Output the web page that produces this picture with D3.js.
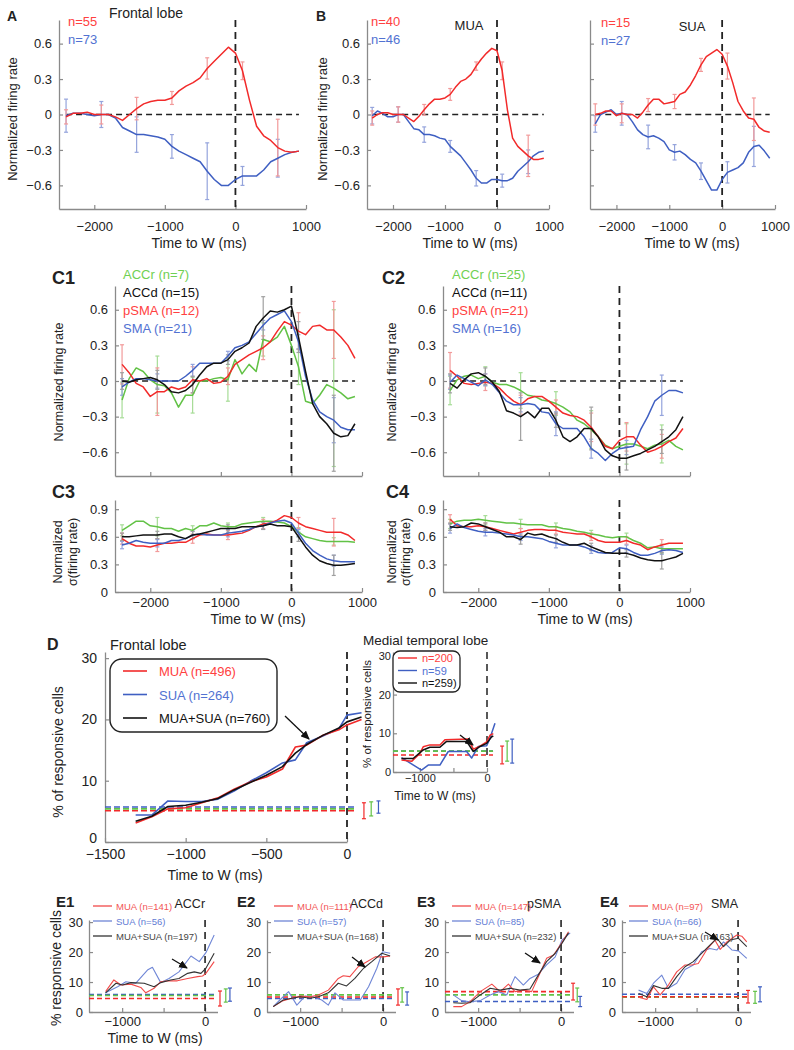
<!DOCTYPE html>
<html>
<head>
<meta charset="utf-8">
<script src="https://cdn.jsdelivr.net/npm/d3@7"></script>
<style>
  body { margin: 0; background: #fff; }
  text { font-family: "Liberation Sans", Arial, sans-serif; fill: #222; }
</style>
</head>
<body>
<script>
// ---------- data: firing-rate panels (A, B, C) ----------
const tFR = [-2400,-2300,-2200,-2100,-2000,-1900,-1800,-1700,-1600,-1500,-1400,-1300,-1200,-1100,-1000,-900,-800,-700,-600,-500,-400,-300,-200,-100,0,100,200,300,400,500,600,700,800,900];
const tErr = [-2400,-1900,-1400,-900,-400,100,600];

const aRed  = [-0.02,0.01,0.01,0.02,0.0,0.0,0.0,-0.02,-0.05,0.0,0.05,0.09,0.11,0.12,0.12,0.14,0.2,0.24,0.27,0.31,0.39,0.45,0.51,0.57,0.52,0.37,0.12,-0.1,-0.18,-0.22,-0.28,-0.31,-0.32,-0.31];
const aBlue = [-0.01,0.01,0.01,0.0,-0.01,0.0,0.0,-0.03,-0.11,-0.14,-0.17,-0.17,-0.18,-0.19,-0.21,-0.27,-0.31,-0.34,-0.37,-0.4,-0.48,-0.55,-0.6,-0.6,-0.55,-0.52,-0.52,-0.52,-0.47,-0.4,-0.37,-0.34,-0.32,-0.31];
const aRedErr  = [0.06,0.08,0.095,0.055,0.09,0.075,0.24];
const aBlueErr = [0.14,0.11,0.15,0.1,0.24,0.08,0.16];

const muaRed  = [-0.03,0.0,0.015,0.015,0.0,0.0,0.0,-0.03,-0.06,-0.015,0.04,0.09,0.13,0.13,0.14,0.17,0.23,0.28,0.3,0.34,0.41,0.47,0.52,0.56,0.54,0.37,0.04,-0.2,-0.27,-0.31,-0.35,-0.38,-0.38,-0.37];
const muaBlue = [-0.01,0.03,0.01,-0.02,-0.02,0.0,0.0,-0.06,-0.12,-0.13,-0.17,-0.17,-0.18,-0.2,-0.21,-0.27,-0.31,-0.35,-0.41,-0.47,-0.54,-0.58,-0.58,-0.55,-0.55,-0.56,-0.56,-0.54,-0.48,-0.44,-0.4,-0.35,-0.32,-0.31];
const muaRedErr  = [0.06,0.065,0.045,0.05,0.035,0.075,0.175];
const muaBlueErr = [0.07,0.065,0.065,0.05,0.065,0.055,0.1];

const suaRed  = [0.0,0.01,0.03,0.03,-0.01,0.01,0.0,0.0,-0.03,0.02,0.08,0.13,0.13,0.09,0.1,0.11,0.17,0.19,0.25,0.33,0.42,0.49,0.52,0.55,0.51,0.41,0.27,0.11,0.03,-0.03,-0.04,-0.11,-0.14,-0.15];
const suaBlue = [-0.08,0.0,0.02,0.04,0.0,0.01,0.0,-0.06,-0.13,-0.17,-0.19,-0.18,-0.2,-0.23,-0.3,-0.32,-0.31,-0.34,-0.38,-0.41,-0.48,-0.56,-0.64,-0.64,-0.55,-0.49,-0.47,-0.45,-0.41,-0.32,-0.27,-0.26,-0.31,-0.37];
const suaRedErr  = [0.09,0.08,0.055,0.06,0.055,0.11,0.18];
const suaBlueErr = [0.07,0.1,0.1,0.065,0.07,0.09,0.17];

const c1Green = [-0.16,0.02,0.11,0.08,0.01,-0.03,-0.04,-0.1,-0.22,-0.12,-0.12,0.0,0.0,0.02,0.03,0.01,0.18,0.06,0.14,0.08,0.35,0.33,0.37,0.46,0.3,0.12,-0.17,-0.19,-0.12,-0.03,-0.06,-0.1,-0.15,-0.13];
const c1Black = [0.0,-0.01,0.01,0.02,0.03,0.01,-0.03,-0.09,-0.1,-0.08,-0.03,0.05,0.12,0.15,0.15,0.18,0.25,0.28,0.32,0.46,0.53,0.59,0.58,0.6,0.63,0.37,0.08,-0.19,-0.3,-0.36,-0.44,-0.47,-0.46,-0.36];
const c1Red   = [0.14,0.07,-0.02,-0.05,-0.13,-0.09,-0.09,-0.05,-0.07,-0.05,0.01,0.0,0.02,-0.02,-0.01,0.04,0.14,0.18,0.22,0.25,0.28,0.33,0.42,0.5,0.47,0.42,0.39,0.46,0.47,0.43,0.43,0.37,0.3,0.19];
const c1Blue  = [-0.05,-0.01,0.02,0.02,0.01,0.0,0.0,0.0,0.0,0.04,0.09,0.15,0.15,0.15,0.15,0.21,0.28,0.3,0.33,0.4,0.47,0.53,0.56,0.59,0.5,0.33,0.04,-0.16,-0.26,-0.3,-0.33,-0.39,-0.41,-0.41];
const c1GreenErr = [0.15,0.24,0.15,0.18,0.14,0.15,0.66];
const c1BlackErr = [0.07,0.08,0.07,0.04,0.18,0.13,0.32];
const c1RedErr   = [0.165,0.2,0.11,0.07,0.1,0.155,0.24];
const c1BlueErr  = [0.07,0.06,0.05,0.04,0.04,0.06,0.19];

const c2Green = [-0.08,0.01,0.04,0.05,0.02,0.04,-0.01,-0.03,-0.03,-0.05,-0.08,-0.12,-0.13,-0.16,-0.17,-0.19,-0.22,-0.26,-0.33,-0.36,-0.41,-0.47,-0.54,-0.57,-0.55,-0.53,-0.53,-0.55,-0.57,-0.54,-0.53,-0.5,-0.55,-0.58];
const c2Black = [-0.02,-0.06,0.01,0.06,0.07,0.04,-0.01,-0.09,-0.25,-0.27,-0.3,-0.26,-0.31,-0.23,-0.23,-0.33,-0.47,-0.51,-0.47,-0.4,-0.4,-0.47,-0.58,-0.63,-0.65,-0.65,-0.63,-0.61,-0.58,-0.55,-0.51,-0.47,-0.41,-0.3];
const c2Red   = [0.09,0.04,-0.02,-0.03,-0.02,-0.01,-0.02,-0.06,-0.12,-0.17,-0.2,-0.15,-0.13,-0.13,-0.17,-0.22,-0.27,-0.29,-0.3,-0.33,-0.39,-0.47,-0.55,-0.57,-0.5,-0.47,-0.47,-0.54,-0.6,-0.58,-0.55,-0.51,-0.48,-0.4];
const c2Blue  = [-0.01,0.05,0.02,-0.01,-0.04,0.01,-0.03,-0.1,-0.17,-0.2,-0.2,-0.19,-0.2,-0.26,-0.27,-0.36,-0.4,-0.4,-0.4,-0.47,-0.57,-0.61,-0.67,-0.61,-0.57,-0.56,-0.55,-0.41,-0.3,-0.17,-0.12,-0.08,-0.08,-0.1];
const c2GreenErr = [0.12,0.08,0.15,0.1,0.16,0.17,0.16];
const c2BlackErr = [0.08,0.07,0.2,0.06,0.18,0.1,0.1];
const c2RedErr   = [0.15,0.07,0.08,0.06,0.12,0.12,0.1];
const c2BlueErr  = [0.06,0.05,0.06,0.1,0.08,0.06,0.17];

const c3Green = [0.67,0.72,0.77,0.77,0.72,0.71,0.69,0.69,0.66,0.69,0.67,0.72,0.72,0.75,0.72,0.71,0.71,0.74,0.75,0.76,0.77,0.77,0.76,0.75,0.71,0.65,0.6,0.58,0.56,0.55,0.55,0.55,0.55,0.54];
const c3Black = [0.6,0.6,0.61,0.62,0.62,0.62,0.63,0.63,0.6,0.58,0.62,0.63,0.65,0.67,0.69,0.69,0.69,0.71,0.71,0.71,0.72,0.74,0.72,0.72,0.71,0.6,0.49,0.4,0.34,0.31,0.29,0.29,0.3,0.31];
const c3Red   = [0.58,0.53,0.5,0.5,0.49,0.51,0.53,0.53,0.54,0.54,0.58,0.62,0.63,0.62,0.62,0.62,0.63,0.64,0.67,0.71,0.74,0.75,0.78,0.83,0.81,0.75,0.71,0.69,0.67,0.65,0.65,0.65,0.62,0.56];
const c3Blue  = [0.51,0.53,0.56,0.54,0.53,0.53,0.53,0.56,0.56,0.58,0.62,0.63,0.62,0.62,0.62,0.64,0.65,0.66,0.68,0.71,0.72,0.75,0.77,0.78,0.75,0.64,0.53,0.45,0.4,0.36,0.34,0.33,0.33,0.33];
const c3GreenErr = [0.06,0.1,0.05,0.04,0.04,0.05,0.04];
const c3BlackErr = [0.04,0.04,0.04,0.04,0.04,0.05,0.11];
const c3RedErr   = [0.06,0.07,0.05,0.05,0.05,0.06,0.15];
const c3BlueErr  = [0.04,0.04,0.04,0.04,0.04,0.04,0.06];

const c4Green = [0.74,0.77,0.78,0.78,0.79,0.78,0.77,0.76,0.75,0.75,0.74,0.73,0.73,0.73,0.71,0.71,0.69,0.68,0.66,0.65,0.63,0.62,0.6,0.59,0.6,0.6,0.56,0.53,0.48,0.49,0.47,0.47,0.47,0.47];
const c4Black = [0.71,0.7,0.71,0.75,0.74,0.71,0.68,0.65,0.6,0.6,0.57,0.64,0.62,0.63,0.6,0.58,0.54,0.51,0.51,0.53,0.49,0.46,0.43,0.42,0.42,0.42,0.4,0.37,0.35,0.34,0.34,0.36,0.38,0.42];
const c4Red   = [0.79,0.72,0.71,0.71,0.72,0.71,0.69,0.67,0.65,0.63,0.65,0.67,0.68,0.68,0.67,0.67,0.65,0.64,0.63,0.63,0.6,0.56,0.54,0.54,0.54,0.56,0.53,0.51,0.46,0.49,0.51,0.53,0.53,0.53];
const c4Blue  = [0.69,0.74,0.7,0.68,0.66,0.65,0.65,0.64,0.63,0.62,0.6,0.6,0.59,0.58,0.55,0.53,0.51,0.51,0.51,0.49,0.46,0.43,0.42,0.43,0.48,0.47,0.43,0.4,0.4,0.42,0.45,0.46,0.45,0.43];
const c4GreenErr = [0.05,0.05,0.05,0.04,0.04,0.04,0.05];
const c4BlackErr = [0.04,0.04,0.05,0.04,0.04,0.04,0.09];
const c4RedErr   = [0.05,0.04,0.04,0.04,0.04,0.04,0.06];
const c4BlueErr  = [0.05,0.04,0.04,0.05,0.04,0.04,0.04];

// ---------- data: % responsive cells (D, E) ----------
const dT     = [-1310,-1210,-1110,-1000,-900,-800,-700,-600,-500,-400,-320,-250,-150,-50,0,90];
const dRed   = [3.1,4.1,5.4,5.6,6.4,7.2,8.6,9.8,10.6,11.9,15.5,15.8,17.4,18.3,19.1,20.0];
const dBlack = [3.4,4.2,5.8,6.0,6.5,7.1,8.5,9.7,10.9,12.3,14.5,15.9,17.4,18.6,19.6,20.4];
const dBlue  = [4.4,4.4,6.7,6.6,6.6,7.0,8.3,9.9,11.3,12.9,13.4,16.2,17.3,18.5,20.7,21.1];
const dSig    = [5.1, 5.4, 5.7];      // red, green, blue chance levels
const dSigErr = [1.3, 1.15, 1.0];
const dSigT   = [105, 150, 195];

const mtlRedT   = [-1274,-1119,-1000,-950,-851,-701,-627,-278,-204,-104,-5,45,94];
const mtlRed    = [3.1,2.8,4.8,6.5,7.0,7.0,8.3,8.5,5.9,6.7,7.8,9.5,9.9];
const mtlBlackT = [-1274,-1100,-950,-851,-701,-602,-303,-204,-104,-5,70,94];
const mtlBlack  = [3.5,3.5,5.7,6.4,6.4,7.9,7.9,5.3,6.6,7.4,9.1,9.3];
const mtlBlueT  = [-1274,-975,-876,-701,-577,-303,-229,-129,-5,35,119];
const mtlBlue   = [3.7,0.5,1.8,1.8,5.3,5.3,3.6,6.6,6.8,8.3,12.6];
const mtlSig    = [4.4, 5.4, 5.4];
const mtlSigErr = [2.3, 2.6, 3.1];
const mtlSigT   = [225, 300, 375];

const e1RedT = [-1200,-1100,-1015,-895,-775,-715,-615,-535,-455,-335,-210,-90,-30,10,110];
const e1Red  = [6.8,10.7,9.0,9.3,8.2,6.4,7.9,10.1,10.4,10.4,11.2,11.8,12.0,12.9,16.8];
const e1BlackT = [-1200,-1075,-995,-895,-735,-615,-535,-415,-315,-210,-130,-50,10,110];
const e1Black  = [6.4,9.6,9.0,9.8,9.6,8.4,9.8,10.7,11.2,12.9,13.4,12.9,14.6,19.6];
const e1BlueT = [-1200,-1055,-955,-835,-695,-635,-535,-435,-315,-170,-70,10,110];
const e1Blue  = [6.4,8.4,10.1,9.6,14.0,14.9,9.8,11.2,13.4,18.7,16.8,19.8,25.7];

const e2RedT = [-1325,-1205,-1100,-1000,-880,-780,-660,-540,-480,-400,-300,-195,-95,5,85];
const e2Red  = [1.8,3.8,4.6,5.3,5.1,5.7,7.3,11.2,12.1,11.8,15.1,16.8,18.4,18.4,18.7];
const e2BlackT = [-1325,-1205,-1100,-1000,-880,-780,-660,-540,-440,-340,-235,-135,-15,85];
const e2Black  = [1.8,4.0,4.6,5.1,4.6,5.1,6.4,9.6,8.7,11.2,14.6,16.8,19.6,18.7];
const e2BlueT = [-1325,-1245,-1140,-1040,-940,-840,-740,-660,-580,-480,-360,-275,-175,-75,-5,85];
const e2Blue  = [1.8,4.0,6.8,2.3,5.3,5.1,4.0,2.3,6.4,4.0,4.0,4.0,8.4,14.6,20.1,19.6];

const e3RedT = [-1300,-1200,-1100,-975,-835,-735,-635,-555,-455,-355,-255,-175,-90,-10,90];
const e3Red  = [1.8,1.8,3.4,6.8,9.3,6.8,9.3,6.8,7.3,6.8,12.9,17.9,19.0,22.3,26.8];
const e3BlackT = [-1300,-1200,-1100,-975,-855,-735,-615,-495,-375,-275,-175,-70,10,90];
const e3Black  = [3.1,2.9,3.1,5.7,7.9,7.3,7.9,7.3,7.7,12.3,16.8,19.6,22.9,26.4];
const e3BlueT = [-1300,-1200,-1100,-975,-855,-755,-655,-555,-455,-375,-275,-175,-70,10,110];
const e3Blue  = [5.7,3.8,3.4,3.8,5.7,6.8,5.7,11.8,9.0,11.2,12.6,15.7,18.4,24.0,26.4];

const e4RedT = [-1200,-1100,-1020,-940,-840,-740,-640,-560,-480,-380,-280,-215,-135,-15,45,105];
const e4Red  = [4.9,4.2,8.4,5.7,9.0,13.4,15.7,15.7,16.2,20.7,24.0,20.9,23.4,25.7,25.3,23.4];
const e4BlackT = [-1200,-1100,-1020,-920,-840,-740,-640,-540,-440,-340,-255,-175,-95,5,105];
const e4Black  = [6.2,5.1,8.8,7.9,7.9,11.8,15.1,16.8,19.6,22.3,24.6,21.8,24.0,24.6,21.8];
const e4BlueT = [-1200,-1100,-1020,-920,-840,-740,-640,-540,-440,-340,-255,-175,-75,5,105];
const e4Blue  = [7.3,6.2,9.6,12.3,7.9,9.6,14.2,15.7,20.1,21.2,20.7,23.4,20.7,20.4,17.9];

// chance levels for E panels: [red, green, blue]
const e1Sig = [4.5, 5.5, 5.8], e1SigErr = [2.5, 2.2, 2.2], e1SigT = [180, 250, 300];
const e2Sig = [5.0, 5.7, 4.5], e2SigErr = [2.7, 2.4, 2.2], e2SigT = [180, 230, 290];
const e3Sig = [6.8, 5.7, 3.5], e3SigErr = [2.8, 2.3, 1.7], e3SigT = [145, 195, 230];
const e4Sig = [5.1, 4.9, 5.9], e4SigErr = [2.1, 2.0, 2.5], e4SigT = [120, 205, 265];

const eTitles = ["ACCr", "ACCd", "pSMA", "SMA"];
const eLegends = [
  ["MUA (n=141)", "SUA (n=56)", "MUA+SUA (n=197)"],
  ["MUA (n=111)", "SUA (n=57)", "MUA+SUA (n=168)"],
  ["MUA (n=147)", "SUA (n=85)", "MUA+SUA (n=232)"],
  ["MUA (n=97)", "SUA (n=66)", "MUA+SUA (n=163)"]
];

// ---------- colours ----------
const RED = "#f22a2a", BLUE = "#3f5fc2", GREEN = "#62c246", BLACK = "#111";
const RED_E = "#f29a9a", BLUE_E = "#95a4dc", GREEN_E = "#a6dc96", BLACK_E = "#a0a0a0";
const RED_T = "#ff4141", BLUE_T = "#5272d2", GREEN_T = "#6fd052";
const AX = "#8a8a8a";

const svg = d3.select("body").append("svg")
  .attr("width", 794).attr("height", 1050);

svg.append("defs").append("marker")
  .attr("id", "arr").attr("markerUnits", "userSpaceOnUse")
  .attr("markerWidth", 10).attr("markerHeight", 8)
  .attr("refX", 8).attr("refY", 4).attr("orient", "auto")
  .append("path").attr("d", "M0,0 L9,4 L0,8 Z").attr("fill", "#111");

const fmtT = d => d < 0 ? "\u2212" + Math.abs(d) : String(d);
const fmtR = d => d === 0 ? "0" : (d < 0 ? "\u2212" : "") + Math.abs(d).toFixed(1);

// axes frame for one panel
function frame(o) {
  const x = d3.scaleLinear().domain(o.xd).range([o.x0, o.x1]);
  const y = d3.scaleLinear().domain(o.yd).range([o.y0, o.y1]);
  const g = svg.append("g");
  const fs = o.fs || 13;

  const bottom = d3.axisBottom(x).tickValues(o.xticks)
    .tickSizeInner(-4).tickSizeOuter(0).tickPadding(o.xpad)
    .tickFormat(d => (o.xlab || []).includes(d) ? fmtT(d) : "");
  g.append("g").attr("transform", `translate(0,${o.y0})`).call(bottom)
    .attr("font-size", fs).attr("font-family", null);

  const left = d3.axisLeft(y).tickValues(o.yticks)
    .tickSizeInner(-4).tickSizeOuter(0).tickPadding(o.ypad)
    .tickFormat(o.yfmt || (() => ""));
  const ly = g.append("g").attr("transform", `translate(${o.x0},0)`).call(left)
    .attr("font-size", fs).attr("font-family", null);
  // optionally lift the lowest y label so it clears the x labels
  if (o.liftZero) ly.selectAll(".tick text").filter(d => d === 0).attr("dy", "0.02em");

  g.selectAll(".domain").attr("stroke", AX).attr("stroke-width", 1.3);
  g.selectAll(".tick line").attr("stroke", AX).attr("stroke-width", 1.2);
  g.selectAll(".tick text").attr("fill", "#222");
  return { x, y, g };
}

function curve(p, t, v, color, w) {
  p.g.append("path")
    .datum(t.map((d, i) => [d, v[i]]))
    .attr("fill", "none").attr("stroke", color).attr("stroke-width", w)
    .attr("stroke-linejoin", "round")
    .attr("d", d3.line().x(d => p.x(d[0])).y(d => p.y(d[1])));
}

function errBars(p, t, c, h, color) {
  t.forEach((tt, i) => {
    const xx = p.x(tt);
    const g = p.g.append("g").attr("stroke", color).attr("stroke-width", 1.2);
    g.append("line").attr("x1", xx).attr("x2", xx).attr("y1", p.y(c[i] - h[i])).attr("y2", p.y(c[i] + h[i]));
    g.append("line").attr("x1", xx - 2).attr("x2", xx + 2).attr("y1", p.y(c[i] - h[i])).attr("y2", p.y(c[i] - h[i]));
    g.append("line").attr("x1", xx - 2).attr("x2", xx + 2).attr("y1", p.y(c[i] + h[i])).attr("y2", p.y(c[i] + h[i]));
  });
}

function vZero(p, w) {
  p.g.append("line")
    .attr("x1", p.x(0)).attr("x2", p.x(0))
    .attr("y1", p.y.range()[1]).attr("y2", p.y.range()[0])
    .attr("stroke", "#222").attr("stroke-width", w || 1.8).attr("stroke-dasharray", "7,5");
}

function hZero(p) {
  p.g.append("line")
    .attr("x1", p.x(tFR[0])).attr("x2", p.x(tFR[tFR.length - 1]))
    .attr("y1", p.y(0)).attr("y2", p.y(0))
    .attr("stroke", "#222").attr("stroke-width", 1.4).attr("stroke-dasharray", "6,4");
}

function frSeries(p, items) {
  items.forEach(s => errBars(p, tErr, tErr.map(t => s.v[tFR.indexOf(t)]), s.e, s.ec));
  items.forEach(s => curve(p, tFR, s.v, s.c, 1.5));
}

function txt(x, y, s, o = {}) {
  const t = svg.append("text").attr("x", x).attr("y", y).text(s)
    .attr("font-size", o.fs || 13)
    .attr("text-anchor", o.anchor || "start");
  if (o.fill) t.style("fill", o.fill);
  if (o.bold) t.attr("font-weight", "bold");
  if (o.rot) t.attr("transform", `rotate(-90,${x},${y})`).attr("dominant-baseline", "central").attr("text-anchor", "middle");
  return t;
}

// chance levels with dashed lines and error bars
function chance(p, tEnd, sig, sigErr, sigT, dash) {
  const cols = [RED, GREEN, BLUE];
  [2, 1, 0].forEach(i => {
    p.g.append("line")
      .attr("x1", p.x.range()[0]).attr("x2", p.x(tEnd))
      .attr("y1", p.y(sig[i])).attr("y2", p.y(sig[i]))
      .attr("stroke", cols[i]).attr("stroke-width", 1.6).attr("stroke-dasharray", dash || "5,3");
  });
  sig.forEach((s, i) => errBars(p, [sigT[i]], [s], [sigErr[i]], cols[i]));
}

function arrow(x1, y1, x2, y2) {
  svg.append("line").attr("x1", x1).attr("y1", y1).attr("x2", x2).attr("y2", y2)
    .attr("stroke", "#111").attr("stroke-width", 1.3).attr("marker-end", "url(#arr)");
}

/* ---------------- Panel A ---------------- */
const frY = { yd: [-0.8, 0.8], y0: 209, y1: 20, yticks: [-0.6, -0.3, 0, 0.3, 0.6] };
const pA = frame({ ...frY, x0: 59, x1: 306, xd: [-2500, 1000], xticks: [-2000, -1000, 0, 1000],
  xlab: [-2000, -1000, 0, 1000], xpad: 13, ypad: 7, yfmt: fmtR });
hZero(pA); vZero(pA);
frSeries(pA, [
  { v: aBlue, e: aBlueErr, c: BLUE, ec: BLUE_E },
  { v: aRed, e: aRedErr, c: RED, ec: RED_E }
]);
txt(7, 21, "A", { bold: true, fs: 14 });
txt(146, 18, "Frontal lobe", { anchor: "middle", fs: 14 });
txt(68, 26, "n=55", { fill: RED_T });
txt(68, 44, "n=73", { fill: BLUE_T });
txt(12, 119, "Normalized firing rate", { rot: true });
txt(199, 248, "Time to W (ms)", { anchor: "middle", fs: 14 });

/* ---------------- Panel B: MUA ---------------- */
const pB = frame({ ...frY, x0: 367, x1: 549, xd: [-2500, 1000], xticks: [-2000, -1000, 0, 1000],
  xlab: [-2000, -1000, 0, 1000], xpad: 13, ypad: 7, yfmt: fmtR });
hZero(pB); vZero(pB);
frSeries(pB, [
  { v: muaBlue, e: muaBlueErr, c: BLUE, ec: BLUE_E },
  { v: muaRed, e: muaRedErr, c: RED, ec: RED_E }
]);
txt(316, 21, "B", { bold: true, fs: 14 });
txt(371, 26, "n=40", { fill: RED_T });
txt(371, 44, "n=46", { fill: BLUE_T });
txt(469, 30, "MUA", { anchor: "middle" });
txt(322, 119, "Normalized firing rate", { rot: true });
txt(470, 248, "Time to W (ms)", { anchor: "middle", fs: 14 });

/* ---------------- Panel B: SUA ---------------- */
const pS = frame({ ...frY, x0: 590, x1: 775, xd: [-2500, 1000], xticks: [-2000, -1000, 0, 1000],
  xlab: [-2000, -1000, 0, 1000], xpad: 13, ypad: 7 });
hZero(pS); vZero(pS);
frSeries(pS, [
  { v: suaBlue, e: suaBlueErr, c: BLUE, ec: BLUE_E },
  { v: suaRed, e: suaRedErr, c: RED, ec: RED_E }
]);
txt(601, 27, "n=15", { fill: RED_T });
txt(601, 45, "n=27", { fill: BLUE_T });
txt(692, 31, "SUA", { anchor: "middle" });
txt(692, 248, "Time to W (ms)", { anchor: "middle", fs: 14 });

/* ---------------- Panels C1-C4 ---------------- */
const cTop = { yd: [-0.8, 0.8], y0: 476, y1: 286, yticks: [-0.6, -0.3, 0, 0.3, 0.6], ypad: 7, yfmt: fmtR,
  xd: [-2500, 1000], xticks: [-2000, -1000, 0, 1000], xpad: 7 };
const cBot = { yd: [0, 1], y0: 592, y1: 500, yticks: [0, 0.3, 0.6, 0.9], ypad: 7, yfmt: fmtR,
  xd: [-2500, 1000], xticks: [-2000, -1000, 0, 1000], xlab: [-2000, -1000, 0, 1000], xpad: 6 };

const pC1 = frame({ ...cTop, x0: 115, x1: 362 });
hZero(pC1); vZero(pC1);
frSeries(pC1, [
  { v: c1Green, e: c1GreenErr, c: GREEN, ec: GREEN_E },
  { v: c1Red, e: c1RedErr, c: RED, ec: RED_E },
  { v: c1Blue, e: c1BlueErr, c: BLUE, ec: BLUE_E },
  { v: c1Black, e: c1BlackErr, c: BLACK, ec: BLACK_E }
]);
const pC2 = frame({ ...cTop, x0: 443, x1: 690 });
hZero(pC2); vZero(pC2);
frSeries(pC2, [
  { v: c2Green, e: c2GreenErr, c: GREEN, ec: GREEN_E },
  { v: c2Red, e: c2RedErr, c: RED, ec: RED_E },
  { v: c2Blue, e: c2BlueErr, c: BLUE, ec: BLUE_E },
  { v: c2Black, e: c2BlackErr, c: BLACK, ec: BLACK_E }
]);
const pC3 = frame({ ...cBot, x0: 115, x1: 362 });
vZero(pC3);
frSeries(pC3, [
  { v: c3Green, e: c3GreenErr, c: GREEN, ec: GREEN_E },
  { v: c3Red, e: c3RedErr, c: RED, ec: RED_E },
  { v: c3Blue, e: c3BlueErr, c: BLUE, ec: BLUE_E },
  { v: c3Black, e: c3BlackErr, c: BLACK, ec: BLACK_E }
]);
const pC4 = frame({ ...cBot, x0: 443, x1: 690 });
vZero(pC4);
frSeries(pC4, [
  { v: c4Green, e: c4GreenErr, c: GREEN, ec: GREEN_E },
  { v: c4Red, e: c4RedErr, c: RED, ec: RED_E },
  { v: c4Blue, e: c4BlueErr, c: BLUE, ec: BLUE_E },
  { v: c4Black, e: c4BlackErr, c: BLACK, ec: BLACK_E }
]);

txt(52, 284, "C1", { bold: true, fs: 18 });
txt(382, 284, "C2", { bold: true, fs: 18 });
txt(52, 498, "C3", { bold: true, fs: 18 });
txt(386, 498, "C4", { bold: true, fs: 18 });

const c1Leg = ["ACCr (n=7)", "ACCd (n=15)", "pSMA (n=12)", "SMA (n=21)"];
const c2Leg = ["ACCr (n=25)", "ACCd (n=11)", "pSMA (n=21)", "SMA (n=16)"];
const legCols = [GREEN_T, "#111", RED_T, BLUE_T];
c1Leg.forEach((s, i) => txt(123, 279 + 18 * i, s, { fill: legCols[i] }));
c2Leg.forEach((s, i) => txt(452, 279 + 18 * i, s, { fill: legCols[i] }));

txt(59, 382, "Normalized firing rate", { rot: true, fs: 12.5 });
txt(392, 382, "Normalized firing rate", { rot: true, fs: 12.5 });
txt(58, 552, "Normalized", { rot: true, fs: 12.5 });
txt(73, 552, "\u03c3(firing rate)", { rot: true, fs: 12.5 });
txt(392, 552, "Normalized", { rot: true, fs: 12.5 });
txt(406, 552, "\u03c3(firing rate)", { rot: true, fs: 12.5 });
txt(258, 624, "Time to W (ms)", { anchor: "middle", fs: 14 });
txt(585, 624, "Time to W (ms)", { anchor: "middle", fs: 14 });

/* ---------------- Panel D ---------------- */
const pD = frame({ x0: 105, x1: 347, xd: [-1500, 0], xticks: [-1500, -1000, -500, 0],
  xlab: [-1500, -1000, -500, 0], xpad: 7, y0: 842, y1: 652, yd: [0, 31], yticks: [0, 10, 20, 30],
  ypad: 8, yfmt: d => String(d), fs: 14, liftZero: true });
vZero(pD);
chance(pD, 60, dSig, dSigErr, dSigT, "6,3");
curve(pD, dT, dBlue, BLUE, 1.6);
curve(pD, dT, dRed, RED, 1.6);
curve(pD, dT, dBlack, BLACK, 1.6);
txt(47, 650, "D", { bold: true, fs: 16 });
txt(110, 650, "Frontal lobe", { fs: 14.5 });
txt(58, 752, "% of responsive cells", { rot: true, fs: 14 });
txt(215, 880, "Time to W (ms)", { anchor: "middle", fs: 14 });

svg.append("rect").attr("x", 110).attr("y", 659).attr("width", 167).attr("height", 73)
  .attr("rx", 12).attr("fill", "#fff").attr("stroke", "#222").attr("stroke-width", 1.4);
const dLegTxt = ["MUA (n=496)", "SUA (n=264)", "MUA+SUA (n=760)"];
const dLegCol = [RED, BLUE, BLACK];
const dLegTxtCol = [RED_T, BLUE_T, "#111"];
dLegTxt.forEach((s, i) => {
  const yy = 671 + 23.5 * i;
  svg.append("line").attr("x1", 123).attr("x2", 147).attr("y1", yy).attr("y2", yy)
    .attr("stroke", dLegCol[i]).attr("stroke-width", 1.6);
  txt(159, yy + 5, s, { fill: dLegTxtCol[i] });
});
arrow(285, 716, 309, 739);

/* ---------------- Inset: medial temporal lobe ---------------- */
const pM = frame({ x0: 393, x1: 487, xd: [-1400, 0], xticks: [-1000, -500, 0], xlab: [-1000, 0], xpad: 2,
  y0: 772, y1: 652, yd: [0, 31], yticks: [0, 10, 20, 30], ypad: 2, yfmt: d => String(d), fs: 11 });
vZero(pM, 1.5);
chance(pM, 90, mtlSig, mtlSigErr, mtlSigT, "5,3");
curve(pM, mtlBlueT, mtlBlue, BLUE, 1.5);
curve(pM, mtlRedT, mtlRed, RED, 1.5);
curve(pM, mtlBlackT, mtlBlack, BLACK, 1.5);
txt(363, 645, "Medial temporal lobe", { fs: 13.5 });
txt(367, 714, "% of responsive cells", { rot: true, fs: 11.5 });
txt(435, 800, "Time to W (ms)", { anchor: "middle", fs: 12 });
svg.append("rect").attr("x", 393).attr("y", 651).attr("width", 67).attr("height", 41)
  .attr("rx", 7).attr("fill", "#fff").attr("stroke", "#222").attr("stroke-width", 1.3);
const mLegTxt = ["n=200", "n=59", "n=259)"];
mLegTxt.forEach((s, i) => {
  const yy = 658 + 12.5 * i;
  svg.append("line").attr("x1", 398).attr("x2", 417).attr("y1", yy).attr("y2", yy)
    .attr("stroke", dLegCol[i]).attr("stroke-width", 1.4);
  txt(422, yy + 4, s, { fs: 11, fill: dLegTxtCol[i] });
});
arrow(460, 735, 473, 745);

/* ---------------- Panels E1-E4 ---------------- */
const eLefts = [89, 267, 445, 622];
const eData = [
  { r: [e1RedT, e1Red], b: [e1BlueT, e1Blue], k: [e1BlackT, e1Black], s: [e1Sig, e1SigErr, e1SigT] },
  { r: [e2RedT, e2Red], b: [e2BlueT, e2Blue], k: [e2BlackT, e2Black], s: [e2Sig, e2SigErr, e2SigT] },
  { r: [e3RedT, e3Red], b: [e3BlueT, e3Blue], k: [e3BlackT, e3Black], s: [e3Sig, e3SigErr, e3SigT] },
  { r: [e4RedT, e4Red], b: [e4BlueT, e4Blue], k: [e4BlackT, e4Black], s: [e4Sig, e4SigErr, e4SigT] }
];
const eArrows = [[172, 959, 187, 968], [352, 957, 365, 967], [525, 953, 540, 963], [705, 932, 718, 940]];
const eLabX = [56, 237, 417, 600];

eLefts.forEach((x0, k) => {
  const p = frame({ x0, x1: x0 + 128.5, xd: [-1400, 150], xticks: [-1000, -500, 0], xlab: [-1000, 0], xpad: 5,
    y0: 1012, y1: 920, yd: [0, 30.7], yticks: [0, 10, 20, 30], ypad: 6, yfmt: d => String(d), fs: 13 });
  vZero(p, 1.6);
  const d = eData[k];
  chance(p, 140, d.s[0], d.s[1], d.s[2], "5,3");
  curve(p, d.b[0], d.b[1], "#6f86d6", 1.1);
  curve(p, d.r[0], d.r[1], "#f24a4a", 1.1);
  curve(p, d.k[0], d.k[1], "#333", 1.1);

  txt(eLabX[k], 907, "E" + (k + 1), { bold: true, fs: 15 });
  txt(p.x(0), 908, eTitles[k], { anchor: "end", fs: 12.5 });
  const lx = k === 0 ? x0 + 4 : x0 + 7;
  const cols = ["#f24a4a", "#6f86d6", "#333"];
  const tcols = ["#f25555", "#5f7bd4", "#444"];
  eLegends[k].forEach((s, i) => {
    const yy = 906 + 15 * i;
    svg.append("line").attr("x1", lx).attr("x2", lx + 19).attr("y1", yy).attr("y2", yy)
      .attr("stroke", cols[i]).attr("stroke-width", 1.3);
    txt(lx + 23, yy + 3.5, s, { fs: 9.5, fill: tcols[i] });
  });
  arrow(...eArrows[k]);
});
txt(56, 968, "% responsive cells", { rot: true, fs: 14 });
txt(155, 1043, "Time to W (ms)", { anchor: "middle", fs: 14 });
</script>
</body>
</html>
